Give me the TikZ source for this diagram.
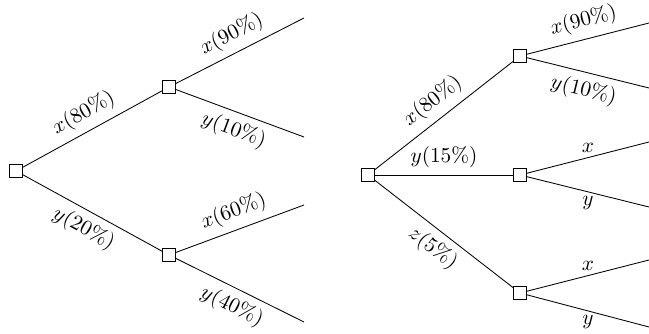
\documentclass[tikz,border=0pt]{standalone}
\begin{document}
\begin{tikzpicture}[
  x=0.47pt, y=-0.47pt,
  chance/.style = {rectangle, draw, fill=white, minimum size=6.2pt, inner sep=0pt},
  lbl/.style    = {midway, sloped, #1},
  ulbl/.style   = {midway, #1, inner sep=2pt}
]
\useasboundingbox (0,0) rectangle (649,334);
% left tree
\node[chance] (l0) at (16,171) {};
\node[chance] (la) at (169,87) {};
\node[chance] (lb) at (169,255) {};
\coordinate (la1) at (304,18);
\coordinate (la2) at (304,137);
\coordinate (lb1) at (304,205);
\coordinate (lb2) at (304,322);
\draw (l0) -- node[lbl=above] {$x(80\%)$} (la);
\draw (l0) -- node[lbl=below] {$y(20\%)$} (lb);
\draw (la) -- node[lbl=above] {$x(90\%)$} (la1);
\draw (la) -- node[lbl=below] {$y(10\%)$} (la2);
\draw (lb) -- node[lbl=above] {$x(60\%)$} (lb1);
\draw (lb) -- node[lbl=below] {$y(40\%)$} (lb2);
% right tree
\node[chance] (r0) at (368,175) {};
\node[chance] (ra) at (520,56) {};
\node[chance] (rb) at (520,175) {};
\node[chance] (rc) at (520,293) {};
\coordinate (ra1) at (649,23);
\coordinate (ra2) at (649,88);
\coordinate (rb1) at (649,142);
\coordinate (rb2) at (649,207);
\coordinate (rc1) at (649,260);
\coordinate (rc2) at (649,327);
\draw (r0) -- node[lbl=above] {$x(80\%)$} (ra);
\draw (r0) -- node[lbl=above] {$y(15\%)$} (rb);
\draw (r0) -- node[lbl=below] {$z(5\%)$} (rc);
\draw (ra) -- node[lbl=above] {$x(90\%)$} (ra1);
\draw (ra) -- node[lbl=below] {$y(10\%)$} (ra2);
\draw (rb) -- node[ulbl=above] {$x$} (rb1);
\draw (rb) -- node[ulbl=below] {$y$} (rb2);
\draw (rc) -- node[ulbl=above] {$x$} (rc1);
\draw (rc) -- node[ulbl=below] {$y$} (rc2);
\end{tikzpicture}
\end{document}
